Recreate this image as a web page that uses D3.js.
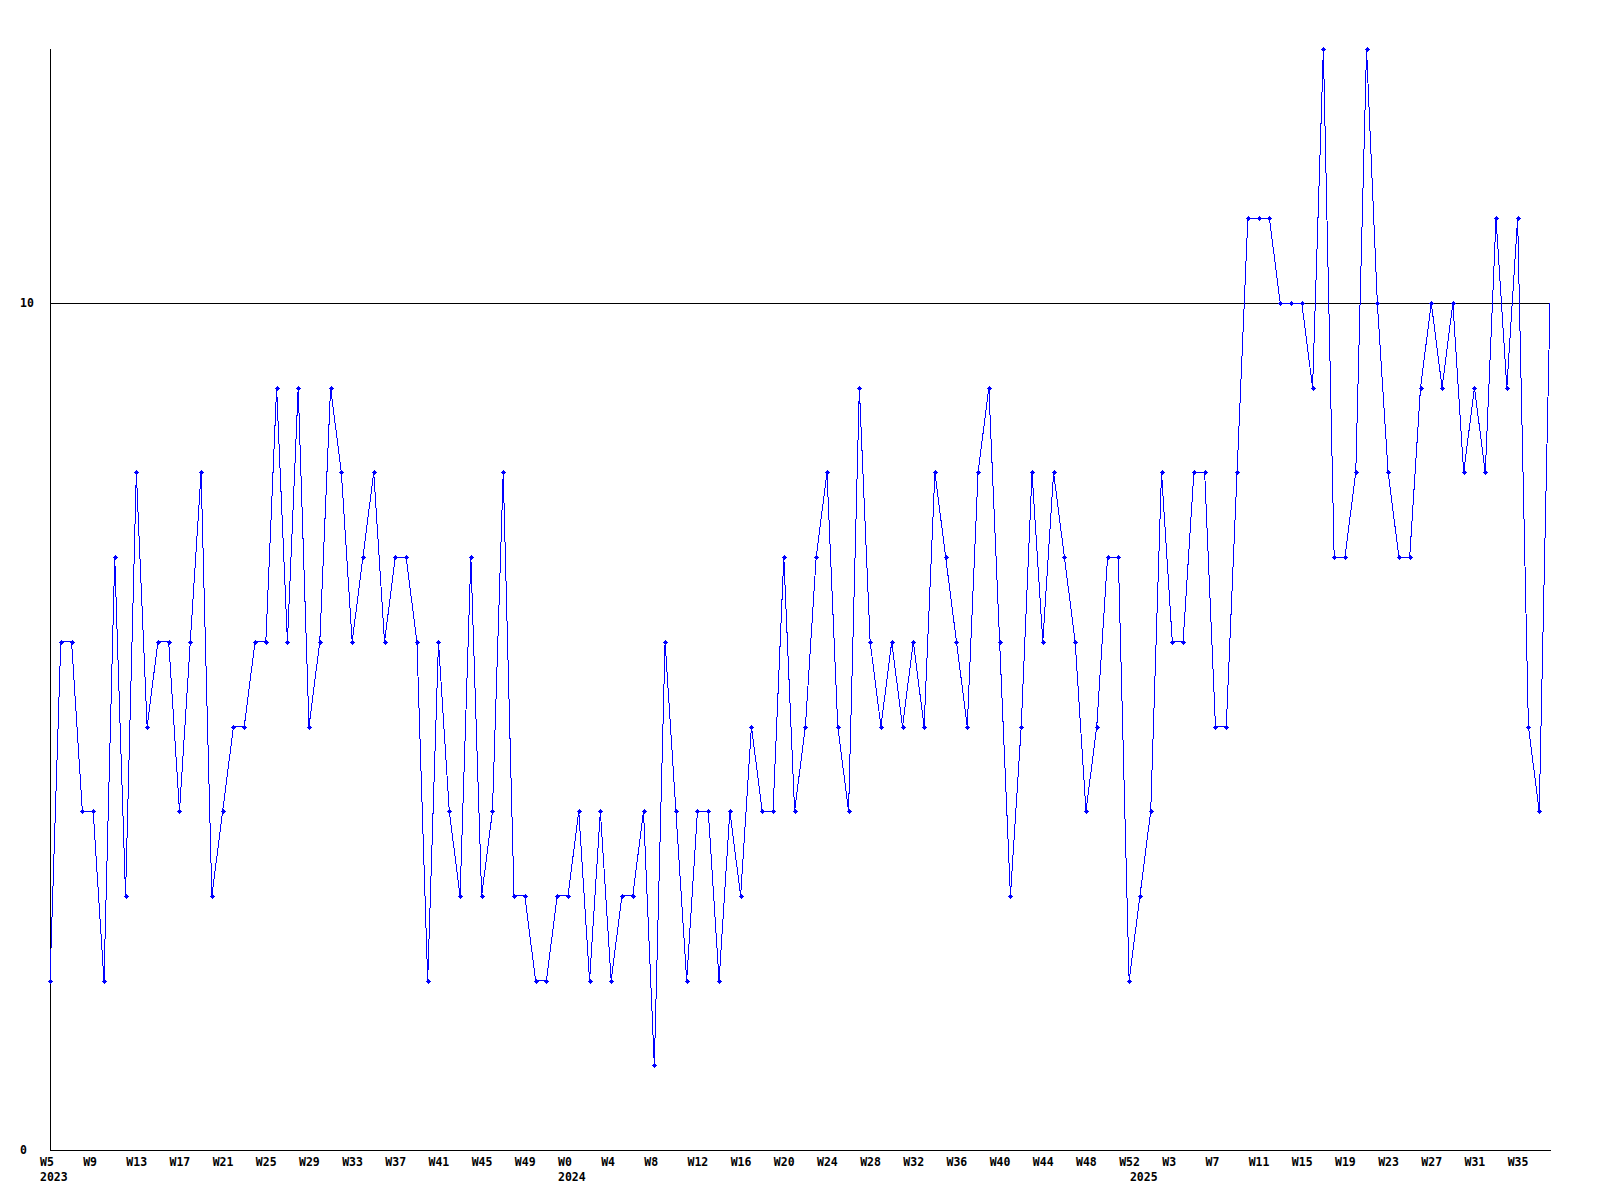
<!DOCTYPE html>
<html>
<head>
<meta charset="utf-8">
<script src="https://cdn.jsdelivr.net/npm/d3@7"></script>
<style>
  html, body { margin: 0; padding: 0; background: #ffffff; }
  svg text { font-family: "DejaVu Sans Mono", "Liberation Mono", monospace; font-weight: bold; font-size: 11.5px; fill: #000; }
</style>
</head>
<body>
<svg id="chart" width="1600" height="1200"></svg>
<script>
// ---- data ----
const values = [
  2,6,6,4,4,2,7,3,8,5,
  6,6,4,6,8,3,4,5,5,6,
  6,9,6,9,5,6,9,8,6,7,
  8,6,7,7,6,2,6,4,3,7,
  3,4,8,3,3,2,2,3,3,4,
  2,4,2,3,3,4,1,6,4,2,
  4,4,2,4,3,5,4,4,7,4,
  5,7,8,5,4,9,6,5,6,5,
  6,5,8,7,6,5,8,9,6,3,
  5,8,6,8,7,6,4,5,7,7,
  2,3,4,8,6,6,8,8,5,5,
  8,11,11,11,10,10,10,9,13,7,
  7,8,13,10,8,7,7,9,10,9,
  10,8,9,8,11,9,11,5,4,10
];
const tickLabels = ["W5","W9","W13","W17","W21","W25","W29","W33","W37","W41","W45","W49",
  "W0","W4","W8","W12","W16","W20","W24","W28","W32","W36","W40","W44","W48","W52",
  "W3","W7","W11","W15","W19","W23","W27","W31","W35"];
const tickStep = 4;
const yearLabels = ["2023","2024","2025"];
const yearStartIndex = [0, 48, 101];
const yTickValues = [0, 10];
const yMax = 13;

// ---- layout ----
const svg = d3.select("#chart");
const x = d3.scaleLinear().domain([0, values.length - 1]).range([50, 1550]);
const y = d3.scaleLinear().domain([0, yMax]).range([1150, 49]);

const g = svg.append("g").attr("shape-rendering", "crispEdges");

// grid line at 10
g.selectAll("line.grid").data(yTickValues.filter(v => v > 0)).enter().append("line")
  .attr("x1", x(0)).attr("x2", x(values.length - 1))
  .attr("y1", d => Math.round(y(d)) + 0.5).attr("y2", d => Math.round(y(d)) + 0.5)
  .attr("stroke", "#000").attr("stroke-width", 1);

// axes lines
g.append("line").attr("x1", x(0) + 0.5).attr("x2", x(0) + 0.5)
  .attr("y1", y(yMax)).attr("y2", y(0) + 0.5).attr("stroke", "#000");
g.append("line").attr("x1", x(0)).attr("x2", x(values.length - 1) + 1)
  .attr("y1", y(0) + 0.5).attr("y2", y(0) + 0.5).attr("stroke", "#000");

// y labels
svg.selectAll("text.ylab").data(yTickValues).enter().append("text")
  .attr("x", 20).attr("y", d => y(d) + 4).text(d => d);

// x labels
svg.selectAll("text.xlab").data(tickLabels).enter().append("text")
  .attr("x", (d, i) => x(i * tickStep) - 10).attr("y", 1166).text(d => d);

svg.selectAll("text.year").data(yearLabels).enter().append("text")
  .attr("x", (d, i) => x(yearStartIndex[i]) - 10).attr("y", 1181).text(d => d);

// line
const line = d3.line().x((d, i) => x(i)).y(d => y(d));
g.append("path").datum(values).attr("d", line)
  .attr("fill", "none").attr("stroke", "#0000ff").attr("stroke-width", 1);

// markers (all but the final, partial point)
const mk = g.selectAll("g.mk").data(values.slice(0, values.length - 1)).enter().append("g")
  .attr("transform", (d, i) => `translate(${Math.round(x(i))},${Math.round(y(d))})`);
mk.append("rect").attr("x", -2).attr("y", -0.5).attr("width", 5).attr("height", 1).attr("fill", "#0000ff");
mk.append("rect").attr("x", -0.5).attr("y", -2).attr("width", 1).attr("height", 5).attr("fill", "#0000ff");
mk.append("rect").attr("x", -1).attr("y", -1).attr("width", 3).attr("height", 3).attr("fill", "#0000ff");
</script>
</body>
</html>
